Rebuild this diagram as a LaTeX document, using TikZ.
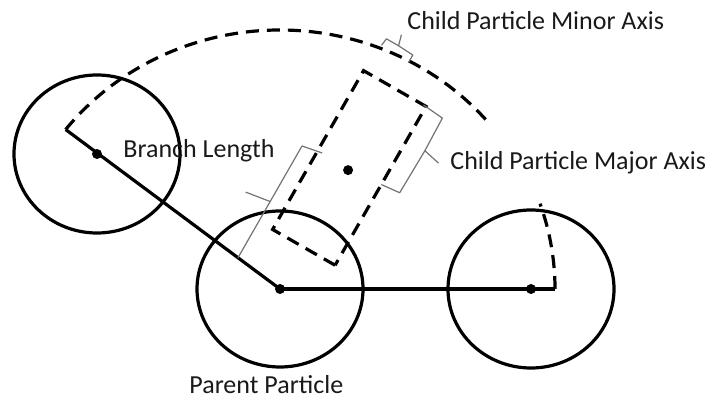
\documentclass[tikz,border=0pt]{standalone}
\usepackage{fontspec}
\setmainfont{Carlito}
\begin{document}
\begin{tikzpicture}[x=0.5pt,y=0.5pt,
  solidline/.style={line width=1.6pt},
  dashline/.style={line width=1.6pt, dash pattern=on 6.5pt off 4pt},
  bracepath/.style={draw=black!55, line width=0.6pt, line join=round},
  lbl/.style={font=\fontsize{13}{15}\selectfont, inner sep=0pt, text=black!90},
  centerdot/.style={circle, fill=black, inner sep=0pt, minimum size=5pt}]
\useasboundingbox (0,0) rectangle (721,400);
\coordinate (parent) at (280,111);
\coordinate (leftc) at (97,246);
\coordinate (rightc) at (531,111);
\coordinate (rightend) at (555,111);
\coordinate (arcstart) at ([shift={(142:272 and 259)}]parent);
\coordinate (smallarcstart) at ([shift={(0:275 and 262)}]parent);

% particles
\draw[solidline] (parent) ellipse[x radius=83, y radius=78];
\draw[solidline] (leftc) ellipse[x radius=83, y radius=79];
\draw[solidline] (rightc) ellipse[x radius=83, y radius=79];

% branches
\draw[solidline] (arcstart) -- (parent);
\draw[solidline] (parent) -- (rightend);

% rotation arcs
\draw[dashline] (arcstart) arc[start angle=142, end angle=40, x radius=272, y radius=259];
\draw[dashline] (smallarcstart) arc[start angle=0, end angle=19, x radius=275, y radius=262];

% centre dots
\node[centerdot] (pdot) at (parent) {};
\node[centerdot] (ldot) at (leftc) {};
\node[centerdot] (rdot) at (rightc) {};

% child particle and braces
\begin{scope}[shift={(parent)}, rotate=60.2]
  \draw[dashline] (48,-36) rectangle (231,36);
  \node[centerdot] (cdot) at (137,0) {};
  % branch length brace
  \draw[bracepath] (6,52) -- (71,52) -- (67,78) (71,52) -- (135,52) -- (139,31);
  % major axis brace
  \draw[bracepath] (141,-36) -- (143,-56) -- (192,-57) -- (188,-75) (192,-57) -- (229,-56) -- (231,-33);
  % minor axis brace
  \draw[bracepath] (261,1) -- (269,1) -- (270,18) -- (281,21) (270,18) -- (270,32) -- (262,33);
\end{scope}

% labels
\node[lbl, anchor=base west] (minorlbl) at (407,370) {Child Particle Minor Axis};
\node[lbl, anchor=base west] (majorlbl) at (450,230) {Child Particle Major Axis};
\node[lbl, anchor=base west] (branchlbl) at (123,242) {Branch Length};
\node[lbl, anchor=base west] (parentlbl) at (189,6) {Parent Particle};
\end{tikzpicture}
\end{document}
